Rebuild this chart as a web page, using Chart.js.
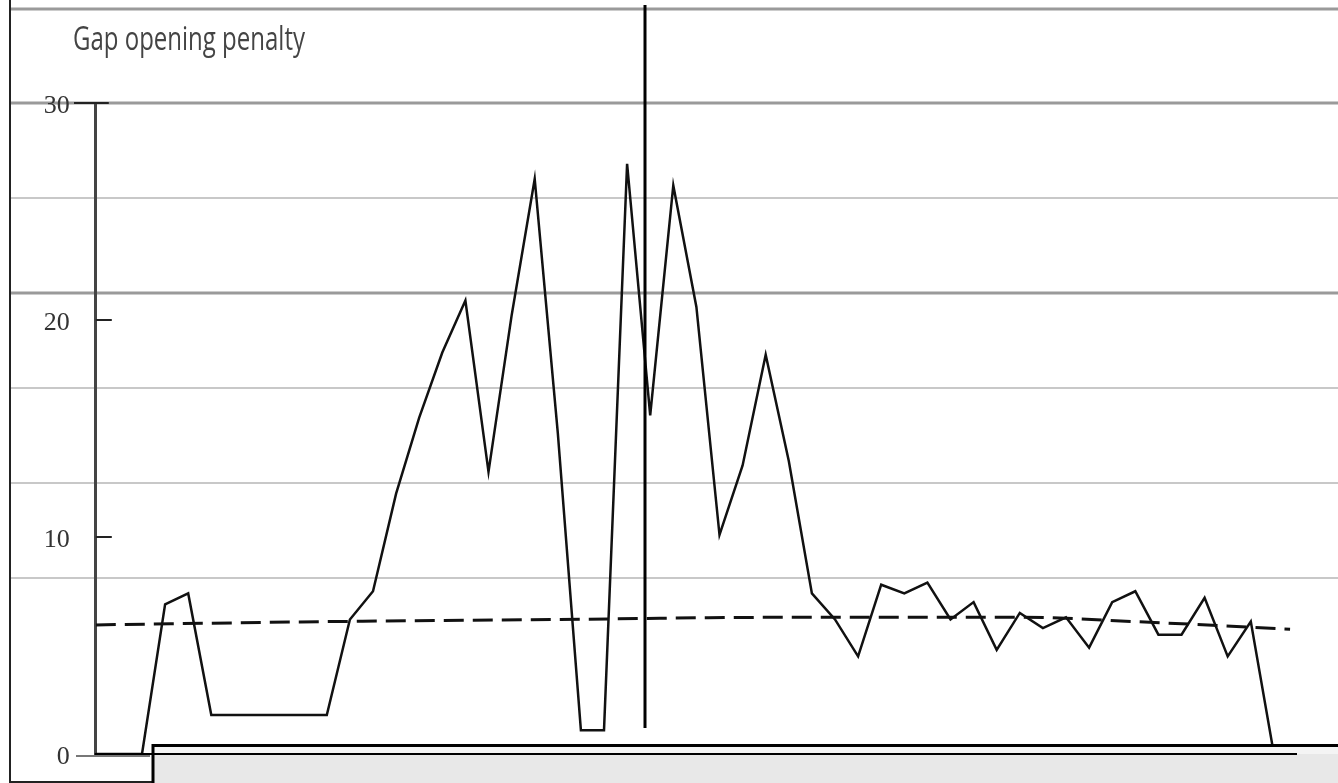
<!DOCTYPE html>
<html><head><meta charset="utf-8">
<script src="https://cdn.jsdelivr.net/npm/chart.js@4/dist/chart.umd.min.js"></script>
<style>html,body{margin:0;padding:0;background:#fff}#wrap{width:1338px;height:783px}</style>
</head><body><div id="wrap"><canvas id="c" width="1338" height="783"></canvas></div>
<script>
const titleText = 'Gap opening penalty';
const yTicks = [0, 10, 20, 30];
const penalty = [0,0,0,6.9,7.4,1.8,1.8,1.8,1.8,1.8,1.8,6.2,7.5,12.0,15.5,18.5,20.9,13.0,20.2,26.5,14.8,1.1,1.1,27.2,15.6,26.2,20.6,10.1,13.3,18.4,13.5,7.4,6.2,4.5,7.8,7.4,7.9,6.2,7.0,4.8,6.5,5.8,6.3,4.9,7.0,7.5,5.5,5.5,7.2,4.5,6.1,0];
const meanX = [0, 10, 20, 30, 40, 45, 51.7];
const meanY = [5.95, 6.1, 6.2, 6.3, 6.3, 6.1, 5.75];

const decor = {
  id: 'decor',
  beforeDraw(chart) {
    const c = chart.ctx;
    c.save();
    c.fillStyle = '#fff';
    c.fillRect(0, 0, chart.width, chart.height);
    const lines = [[9,'#9a9a9a',3],[103,'#9a9a9a',3],[198,'#c8c8c8',2],[293,'#9a9a9a',3],[388,'#c8c8c8',2],[483,'#c8c8c8',2],[578,'#c8c8c8',2]];
    for (const [y, col, w] of lines) {
      c.strokeStyle = col; c.lineWidth = w;
      c.beginPath(); c.moveTo(10, y); c.lineTo(chart.width, y); c.stroke();
    }
    c.strokeStyle = '#222'; c.lineWidth = 2;
    c.beginPath(); c.moveTo(10, 0); c.lineTo(10, 782); c.lineTo(153, 782); c.stroke();
    c.font = '32px "Open Sans", "Noto Sans", sans-serif';
    c.fillStyle = '#444';
    c.textBaseline = 'alphabetic';
    c.textAlign = 'left';
    const w = c.measureText(titleText).width;
    c.translate(73, 50);
    c.scale(232 / w, 1);
    c.fillText(titleText, 0, 0);
    c.restore();
  },
  afterDraw(chart) {
    const c = chart.ctx, a = chart.chartArea, ys = chart.scales.y;
    c.save();
    c.lineWidth = 2;
    for (const v of yTicks) {
      const y = ys.getPixelForValue(v);
      c.beginPath();
      if (v === 0) { c.strokeStyle = '#777'; c.moveTo(76, y + 2); c.lineTo(150, y + 2); }
      else if (v === 30) { c.strokeStyle = '#222'; c.moveTo(74, y); c.lineTo(a.left + 13, y); }
      else { c.strokeStyle = '#222'; c.moveTo(a.left, y); c.lineTo(a.left + 16, y); }
      c.stroke();
    }
    c.fillStyle = '#e8e8e8';
    c.fillRect(153, 746, chart.width - 153, 40);
    c.fillStyle = '#f4f4f4';
    c.fillRect(153, 746, chart.width - 153, 8);
    c.strokeStyle = '#000'; c.lineWidth = 3;
    c.beginPath(); c.moveTo(153, 783); c.lineTo(153, 745.5); c.lineTo(chart.width, 745.5); c.stroke();
    c.lineWidth = 2;
    c.beginPath(); c.moveTo(a.left - 1, a.bottom); c.lineTo(a.right, a.bottom); c.stroke();
    c.lineWidth = 3;
    c.beginPath(); c.moveTo(645, 5); c.lineTo(645, 728); c.stroke();
    c.restore();
  }
};

new Chart(document.getElementById('c'), {
  type: 'line',
  data: {
    datasets: [
      { data: penalty.map((v, i) => ({ x: i, y: v })), borderColor: '#111', borderWidth: 2.5, pointRadius: 0, tension: 0, fill: false },
      { data: meanX.map((x, i) => ({ x: x, y: meanY[i] })), borderColor: '#111', borderWidth: 3, borderDash: [20, 9], pointRadius: 0, cubicInterpolationMode: 'monotone', fill: false }
    ]
  },
  options: {
    responsive: false, animation: false, devicePixelRatio: 1,
    layout: { padding: { left: 20, top: 103, right: 41, bottom: 9 } },
    plugins: { legend: { display: false }, tooltip: { enabled: false }, title: { display: false } },
    scales: {
      x: { type: 'linear', min: 0, max: 52, ticks: { display: false }, grid: { display: false }, border: { display: false },
           afterFit(s) { s.height = 20; s.paddingLeft = 0; s.paddingRight = 0; } },
      y: { min: 0, max: 30, afterBuildTicks(s) { s.ticks = yTicks.map(v => ({ value: v })); },
           ticks: { padding: 18, labelOffset: 3, color: '#333', font: { family: '"Liberation Serif", serif', size: 26 } },
           grid: { display: false }, border: { display: true, color: '#444', width: 3 },
           afterFit(s) { s.width = 75.8; s.paddingTop = 0; s.paddingBottom = 0; } }
    }
  },
  plugins: [decor]
});
</script>
</body></html>
